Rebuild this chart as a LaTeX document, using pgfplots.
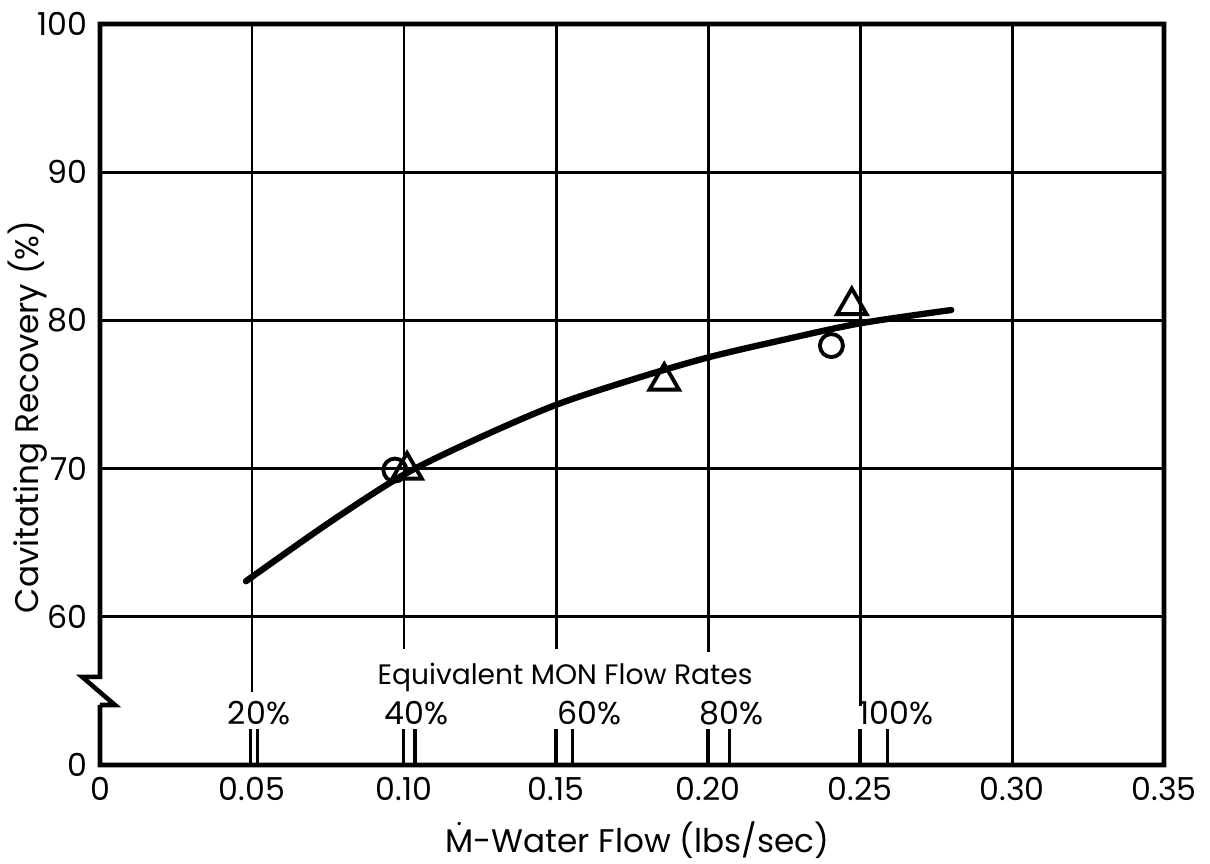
\documentclass[border=0pt]{standalone}
\usepackage{pgfplots}
\pgfplotsset{compat=1.18}
\usepackage{amsmath}
\usepackage{fontspec}
\setmainfont{Poppins}

\begin{document}
\begin{tikzpicture}
\begin{axis}[
    scale only axis, width=106.4mm, height=74.1mm,
    xmin=0, xmax=0.35, ymin=50, ymax=100,
    axis line style={draw=none},
    clip=false,
    xtick={0,0.05,0.10,0.15,0.20,0.25,0.30,0.35},
    xticklabels={0,0.05,0.10,0.15,0.20,0.25,0.30,0.35},
    ytick={50,60,70,80,90,100},
    yticklabels={0,60,70,80,90,100},
    major tick length=0pt,
    /pgf/number format/assume math mode=true,
    tick label style={font=\fontsize{9}{10}\selectfont},
    label style={font=\fontsize{9.3}{10}\selectfont},
    xlabel={$\dot{\text{M}}$-Water Flow (lbs/sec)},
    ylabel={Cavitating Recovery (\%)},
    xlabel style={at={(axis description cs:0.505,-0.101)}, anchor=center},
    ylabel style={at={(axis description cs:-0.068,0.47)}, anchor=center},
  ]
  % frame with axis break
  \addplot[black, line width=1.3pt, line join=miter, forget plot] coordinates {
    (0,54.05) (0,50) (0.35,50) (0.35,100) (0,100) (0,55.95)
    (-0.0059,55.95) (0.0049,54.05) (0,54.05)};
  % horizontal grid
  \addplot[black, line width=0.85pt, unbounded coords=jump, forget plot] coordinates {
    (0,60) (0.35,60) (0,nan)
    (0,70) (0.35,70) (0,nan)
    (0,80) (0.35,80) (0,nan)
    (0,90) (0.35,90)};
  % vertical grid
  \addplot[black, line width=0.85pt, unbounded coords=jump, forget plot] coordinates {
    (0.05,100) (0.05,54.9) (0.05,nan)
    (0.10,100) (0.10,57.8) (0.10,nan)
    (0.15,100) (0.15,57.8) (0.15,nan)
    (0.20,100) (0.20,57.6) (0.20,nan)
    (0.25,100) (0.25,54.0) (0.25,nan)
    (0.30,100) (0.30,50)};
  % equivalent MON flow rate ticks
  \addplot[black, line width=0.9pt, unbounded coords=jump, forget plot] coordinates {
    (0.0495,50) (0.0495,52.4) (0,nan) (0.0518,50) (0.0518,52.4) (0,nan)
    (0.0997,50) (0.0997,52.4) (0,nan) (0.1036,50) (0.1036,52.4) (0,nan)
    (0.150,50) (0.150,52.4) (0,nan) (0.1554,50) (0.1554,52.4) (0,nan)
    (0.200,50) (0.200,52.4) (0,nan) (0.2072,50) (0.2072,52.4) (0,nan)
    (0.250,50) (0.250,52.4) (0,nan) (0.259,50) (0.259,52.4)};
  \begin{scope}[font=\fontsize{9}{10}\selectfont]
    \node[anchor=base] at (axis cs:0.0523,52.7) {20\%};
    \node[anchor=base] at (axis cs:0.104,52.7) {40\%};
    \node[anchor=base] at (axis cs:0.161,52.7) {60\%};
    \node[anchor=base] at (axis cs:0.2077,52.7) {80\%};
    \node[anchor=base] at (axis cs:0.262,52.7) {100\%};
    \node[anchor=base, font=\fontsize{8}{9}\selectfont] at (axis cs:0.153,55.4) {Equivalent MON Flow Rates};
  \end{scope}
  % faired curve
  \addplot[black, line width=1.8pt, smooth, line cap=round] coordinates {
    (0.048,62.4) (0.075,66.3) (0.10,69.6) (0.125,72.1) (0.15,74.3)
    (0.175,76.0) (0.20,77.5) (0.225,78.7) (0.25,79.8) (0.28,80.7)};
  % data points
  \addplot[only marks, mark=o, mark size=1.15mm, mark options={line width=1.1pt, fill=white}]
    coordinates {(0.097,69.9) (0.2406,78.3)};
  \addplot[only marks, mark=triangle, mark size=1.7mm, mark options={line width=1.1pt, fill=white}]
    coordinates {(0.101,69.9) (0.1856,75.9) (0.2473,81.0)};
  \coordinate (sw) at (rel axis cs:0,0);
  \coordinate (ne) at (rel axis cs:1,1);
\end{axis}
\pgfresetboundingbox
\path ([shift={(-10mm,-9.9mm)}]sw) rectangle ([shift={(4.6mm,2.4mm)}]ne);
\end{tikzpicture}
\end{document}
